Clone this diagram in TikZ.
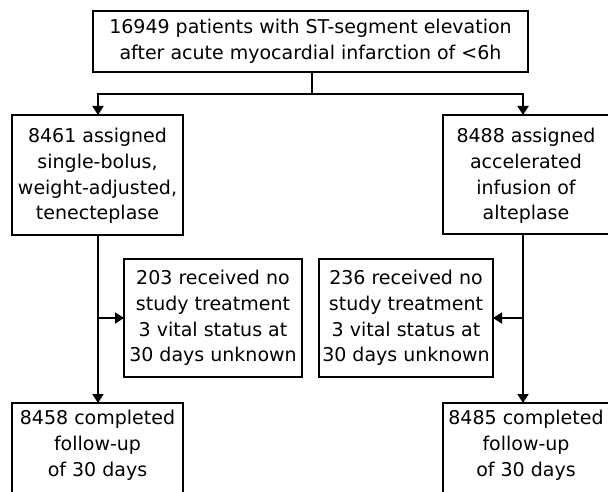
\documentclass[tikz,border=0pt]{standalone}
\usepackage{fontspec}
\setmainfont{DejaVu Sans}
\usetikzlibrary{arrows.meta}
\begin{document}
\begin{tikzpicture}[x=1pt,y=-1pt,
  box/.style={draw,line width=1.8pt},
  txt/.style={align=center,font=\fontsize{19}{25.7}\selectfont,inner sep=0pt},
  conn/.style={line width=1.8pt},
  arr/.style={conn,-{Triangle[width=11pt,length=9pt]}}]
\clip (0,0) rectangle (608,492);
\fill[white] (0,0) rectangle (608,492);
% boxes
\draw[box] (93,11) rectangle (528,72);
\draw[box] (12,115) rectangle (183,235);
\draw[box] (443,115) rectangle (612,234);
\draw[box] (124,259) rectangle (302,377);
\draw[box] (319,259) rectangle (493,377);
\draw[box] (12,403) rectangle (183,500);
\draw[box] (443,403) rectangle (612,500);
% nodes
\node[txt] (top) at (310.5,41) {16949 patients with ST-segment elevation\\after acute myocardial infarction of <6h};
\node[txt] (tnk) at (97.5,176) {8461 assigned\\single-bolus,\\weight-adjusted,\\tenecteplase};
\node[txt] (alt) at (526,176) {8488 assigned\\accelerated\\infusion of\\alteplase};
\node[txt] (ntl) at (213,318) {203 received no\\study treatment\\3 vital status at\\30 days unknown};
\node[txt] (ntr) at (406,318) {236 received no\\study treatment\\3 vital status at\\30 days unknown};
\node[txt,anchor=north] (cl) at (97.5,410) {8458 completed\\follow-up\\of 30 days};
\node[txt,anchor=north] (cr) at (526,410) {8485 completed\\follow-up\\of 30 days};
% anchor coordinates
\coordinate (topb) at (312,72);
\coordinate (split) at (312,94);
\coordinate (lt) at (98,115);
\coordinate (rt) at (523,115);
\coordinate (lb) at (98,235);
\coordinate (rb) at (523,234);
\coordinate (lj) at (98,318);
\coordinate (rj) at (523,318);
\coordinate (lin) at (124,318);
\coordinate (rin) at (493,318);
\coordinate (lend) at (98,403);
\coordinate (rend) at (523,403);
% connectors
\draw[conn] (topb) -- (split);
\draw[arr] (split) -| (lt);
\draw[arr] (split) -| (rt);
\draw[arr] (lb) -- (lend);
\draw[arr] (rb) -- (rend);
\draw[arr] (lj) -- (lin);
\draw[arr] (rj) -- (rin);
\end{tikzpicture}
\end{document}
